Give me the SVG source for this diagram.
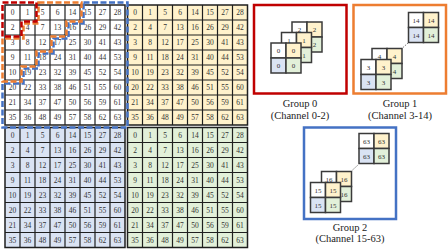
<svg xmlns="http://www.w3.org/2000/svg" width="448" height="250" viewBox="0 0 448 250">
<style>
text{font-family:"Liberation Serif","Times New Roman",serif;fill:#333;text-anchor:middle}
.n{font-size:7.5px}
.m{font-size:7px;fill:#333}
.lbl{font-size:10.5px;fill:#222}
.q{stroke:#1f1f1f;stroke-width:1.5}
.gl{fill:none;stroke:#1f1f1f;stroke-width:1.2}
.w{fill:#ffffff}.y{fill:#fff2cc}.b{fill:#dae3f3}.g{fill:#e2f0d9}
.mc{stroke:#3a3a3a;stroke-width:1.5}
.dash{fill:none;stroke-width:2.5;stroke-dasharray:6 2.5}
.box{fill:#fff;stroke-width:2.5}
.con{fill:none;stroke:#555;stroke-width:0.8;stroke-dasharray:1.5 1.2}
</style>
<defs>
<path id="gridlines" class="gl" d="M15 0V120M30 0V120M45 0V120M60 0V120M75 0V120M90 0V120M105 0V120M0 15H120M0 30H120M0 45H120M0 60H120M0 75H120M0 90H120M0 105H120"/>
</defs>

<g id="quad-tl" transform="translate(5,5)">
<rect class="q w" width="120" height="120"/>
<use href="#gridlines"/>
<g class="n">
<text y="10.3"><tspan x="7.5">0</tspan><tspan x="22.5">1</tspan><tspan x="37.5">5</tspan><tspan x="52.5">6</tspan><tspan x="67.5">14</tspan><tspan x="82.5">15</tspan><tspan x="97.5">27</tspan><tspan x="112.5">28</tspan></text>
<text y="25.3"><tspan x="7.5">2</tspan><tspan x="22.5">4</tspan><tspan x="37.5">7</tspan><tspan x="52.5">13</tspan><tspan x="67.5">16</tspan><tspan x="82.5">26</tspan><tspan x="97.5">29</tspan><tspan x="112.5">42</tspan></text>
<text y="40.3"><tspan x="7.5">3</tspan><tspan x="22.5">8</tspan><tspan x="37.5">12</tspan><tspan x="52.5">17</tspan><tspan x="67.5">25</tspan><tspan x="82.5">30</tspan><tspan x="97.5">41</tspan><tspan x="112.5">43</tspan></text>
<text y="55.3"><tspan x="7.5">9</tspan><tspan x="22.5">11</tspan><tspan x="37.5">18</tspan><tspan x="52.5">24</tspan><tspan x="67.5">31</tspan><tspan x="82.5">40</tspan><tspan x="97.5">44</tspan><tspan x="112.5">53</tspan></text>
<text y="70.3"><tspan x="7.5">10</tspan><tspan x="22.5">19</tspan><tspan x="37.5">23</tspan><tspan x="52.5">32</tspan><tspan x="67.5">39</tspan><tspan x="82.5">45</tspan><tspan x="97.5">52</tspan><tspan x="112.5">54</tspan></text>
<text y="85.3"><tspan x="7.5">20</tspan><tspan x="22.5">22</tspan><tspan x="37.5">33</tspan><tspan x="52.5">38</tspan><tspan x="67.5">46</tspan><tspan x="82.5">51</tspan><tspan x="97.5">55</tspan><tspan x="112.5">60</tspan></text>
<text y="100.3"><tspan x="7.5">21</tspan><tspan x="22.5">34</tspan><tspan x="37.5">37</tspan><tspan x="52.5">47</tspan><tspan x="67.5">50</tspan><tspan x="82.5">56</tspan><tspan x="97.5">59</tspan><tspan x="112.5">61</tspan></text>
<text y="115.3"><tspan x="7.5">35</tspan><tspan x="22.5">36</tspan><tspan x="37.5">48</tspan><tspan x="52.5">49</tspan><tspan x="67.5">57</tspan><tspan x="82.5">58</tspan><tspan x="97.5">62</tspan><tspan x="112.5">63</tspan></text>
</g>
</g>

<g id="quad-tr" transform="translate(127.5,5)">
<rect class="q y" width="120" height="120"/>
<use href="#gridlines"/>
<g class="n">
<text y="10.3"><tspan x="7.5">0</tspan><tspan x="22.5">1</tspan><tspan x="37.5">5</tspan><tspan x="52.5">6</tspan><tspan x="67.5">14</tspan><tspan x="82.5">15</tspan><tspan x="97.5">27</tspan><tspan x="112.5">28</tspan></text>
<text y="25.3"><tspan x="7.5">2</tspan><tspan x="22.5">4</tspan><tspan x="37.5">7</tspan><tspan x="52.5">13</tspan><tspan x="67.5">16</tspan><tspan x="82.5">26</tspan><tspan x="97.5">29</tspan><tspan x="112.5">42</tspan></text>
<text y="40.3"><tspan x="7.5">3</tspan><tspan x="22.5">8</tspan><tspan x="37.5">12</tspan><tspan x="52.5">17</tspan><tspan x="67.5">25</tspan><tspan x="82.5">30</tspan><tspan x="97.5">41</tspan><tspan x="112.5">43</tspan></text>
<text y="55.3"><tspan x="7.5">9</tspan><tspan x="22.5">11</tspan><tspan x="37.5">18</tspan><tspan x="52.5">24</tspan><tspan x="67.5">31</tspan><tspan x="82.5">40</tspan><tspan x="97.5">44</tspan><tspan x="112.5">53</tspan></text>
<text y="70.3"><tspan x="7.5">10</tspan><tspan x="22.5">19</tspan><tspan x="37.5">23</tspan><tspan x="52.5">32</tspan><tspan x="67.5">39</tspan><tspan x="82.5">45</tspan><tspan x="97.5">52</tspan><tspan x="112.5">54</tspan></text>
<text y="85.3"><tspan x="7.5">20</tspan><tspan x="22.5">22</tspan><tspan x="37.5">33</tspan><tspan x="52.5">38</tspan><tspan x="67.5">46</tspan><tspan x="82.5">51</tspan><tspan x="97.5">55</tspan><tspan x="112.5">60</tspan></text>
<text y="100.3"><tspan x="7.5">21</tspan><tspan x="22.5">34</tspan><tspan x="37.5">37</tspan><tspan x="52.5">47</tspan><tspan x="67.5">50</tspan><tspan x="82.5">56</tspan><tspan x="97.5">59</tspan><tspan x="112.5">61</tspan></text>
<text y="115.3"><tspan x="7.5">35</tspan><tspan x="22.5">36</tspan><tspan x="37.5">48</tspan><tspan x="52.5">49</tspan><tspan x="67.5">57</tspan><tspan x="82.5">58</tspan><tspan x="97.5">62</tspan><tspan x="112.5">63</tspan></text>
</g>
</g>

<g id="quad-bl" transform="translate(5,127.5)">
<rect class="q b" width="120" height="120"/>
<use href="#gridlines"/>
<g class="n">
<text y="10.3"><tspan x="7.5">0</tspan><tspan x="22.5">1</tspan><tspan x="37.5">5</tspan><tspan x="52.5">6</tspan><tspan x="67.5">14</tspan><tspan x="82.5">15</tspan><tspan x="97.5">27</tspan><tspan x="112.5">28</tspan></text>
<text y="25.3"><tspan x="7.5">2</tspan><tspan x="22.5">4</tspan><tspan x="37.5">7</tspan><tspan x="52.5">13</tspan><tspan x="67.5">16</tspan><tspan x="82.5">26</tspan><tspan x="97.5">29</tspan><tspan x="112.5">42</tspan></text>
<text y="40.3"><tspan x="7.5">3</tspan><tspan x="22.5">8</tspan><tspan x="37.5">12</tspan><tspan x="52.5">17</tspan><tspan x="67.5">25</tspan><tspan x="82.5">30</tspan><tspan x="97.5">41</tspan><tspan x="112.5">43</tspan></text>
<text y="55.3"><tspan x="7.5">9</tspan><tspan x="22.5">11</tspan><tspan x="37.5">18</tspan><tspan x="52.5">24</tspan><tspan x="67.5">31</tspan><tspan x="82.5">40</tspan><tspan x="97.5">44</tspan><tspan x="112.5">53</tspan></text>
<text y="70.3"><tspan x="7.5">10</tspan><tspan x="22.5">19</tspan><tspan x="37.5">23</tspan><tspan x="52.5">32</tspan><tspan x="67.5">39</tspan><tspan x="82.5">45</tspan><tspan x="97.5">52</tspan><tspan x="112.5">54</tspan></text>
<text y="85.3"><tspan x="7.5">20</tspan><tspan x="22.5">22</tspan><tspan x="37.5">33</tspan><tspan x="52.5">38</tspan><tspan x="67.5">46</tspan><tspan x="82.5">51</tspan><tspan x="97.5">55</tspan><tspan x="112.5">60</tspan></text>
<text y="100.3"><tspan x="7.5">21</tspan><tspan x="22.5">34</tspan><tspan x="37.5">37</tspan><tspan x="52.5">47</tspan><tspan x="67.5">50</tspan><tspan x="82.5">56</tspan><tspan x="97.5">59</tspan><tspan x="112.5">61</tspan></text>
<text y="115.3"><tspan x="7.5">35</tspan><tspan x="22.5">36</tspan><tspan x="37.5">48</tspan><tspan x="52.5">49</tspan><tspan x="67.5">57</tspan><tspan x="82.5">58</tspan><tspan x="97.5">62</tspan><tspan x="112.5">63</tspan></text>
</g>
</g>

<g id="quad-br" transform="translate(127.5,127.5)">
<rect class="q g" width="120" height="120"/>
<use href="#gridlines"/>
<g class="n">
<text y="10.3"><tspan x="7.5">0</tspan><tspan x="22.5">1</tspan><tspan x="37.5">5</tspan><tspan x="52.5">6</tspan><tspan x="67.5">14</tspan><tspan x="82.5">15</tspan><tspan x="97.5">27</tspan><tspan x="112.5">28</tspan></text>
<text y="25.3"><tspan x="7.5">2</tspan><tspan x="22.5">4</tspan><tspan x="37.5">7</tspan><tspan x="52.5">13</tspan><tspan x="67.5">16</tspan><tspan x="82.5">26</tspan><tspan x="97.5">29</tspan><tspan x="112.5">42</tspan></text>
<text y="40.3"><tspan x="7.5">3</tspan><tspan x="22.5">8</tspan><tspan x="37.5">12</tspan><tspan x="52.5">17</tspan><tspan x="67.5">25</tspan><tspan x="82.5">30</tspan><tspan x="97.5">41</tspan><tspan x="112.5">43</tspan></text>
<text y="55.3"><tspan x="7.5">9</tspan><tspan x="22.5">11</tspan><tspan x="37.5">18</tspan><tspan x="52.5">24</tspan><tspan x="67.5">31</tspan><tspan x="82.5">40</tspan><tspan x="97.5">44</tspan><tspan x="112.5">53</tspan></text>
<text y="70.3"><tspan x="7.5">10</tspan><tspan x="22.5">19</tspan><tspan x="37.5">23</tspan><tspan x="52.5">32</tspan><tspan x="67.5">39</tspan><tspan x="82.5">45</tspan><tspan x="97.5">52</tspan><tspan x="112.5">54</tspan></text>
<text y="85.3"><tspan x="7.5">20</tspan><tspan x="22.5">22</tspan><tspan x="37.5">33</tspan><tspan x="52.5">38</tspan><tspan x="67.5">46</tspan><tspan x="82.5">51</tspan><tspan x="97.5">55</tspan><tspan x="112.5">60</tspan></text>
<text y="100.3"><tspan x="7.5">21</tspan><tspan x="22.5">34</tspan><tspan x="37.5">37</tspan><tspan x="52.5">47</tspan><tspan x="67.5">50</tspan><tspan x="82.5">56</tspan><tspan x="97.5">59</tspan><tspan x="112.5">61</tspan></text>
<text y="115.3"><tspan x="7.5">35</tspan><tspan x="22.5">36</tspan><tspan x="37.5">48</tspan><tspan x="52.5">49</tspan><tspan x="67.5">57</tspan><tspan x="82.5">58</tspan><tspan x="97.5">62</tspan><tspan x="112.5">63</tspan></text>
</g>
</g>

<g id="group-outlines">
<path id="outline-blue" class="dash" stroke="#4472c4" d="M83.5 2.5H127.5V127.5H2.5V83.5H23.5V68.5H38.5V53.5H53.5V38.5H68.5V23.5H83.5Z"/>
<path id="outline-orange" class="dash" stroke="#ed7d31" d="M38.5 2.5H81.5V21.5H66.5V36.5H51.5V51.5H36.5V66.5H21.5V81.5H2.5V38.5H23.5V23.5H38.5Z"/>
<path id="outline-red" class="dash" stroke="#c00000" d="M2.5 2.5H36.5V21.5H21.5V36.5H2.5Z"/>
</g>

<g id="group0">
<rect class="box" stroke="#c00000" x="254" y="5" width="92.5" height="88.5"/>
<g id="g0-ch2" transform="translate(292,22)">
<rect class="mc w" width="15" height="15"/><rect class="mc y" x="15" width="15" height="15"/><rect class="mc b" y="15" width="15" height="15"/><rect class="mc g" x="15" y="15" width="15" height="15"/>
<text class="m" x="7.5" y="10">2</text><text class="m" x="22.5" y="10">2</text><text class="m" x="22.5" y="25">2</text>
</g>
<g id="g0-ch1" transform="translate(281.5,32.5)">
<rect class="mc w" width="15" height="15"/><rect class="mc y" x="15" width="15" height="15"/><rect class="mc b" y="15" width="15" height="15"/><rect class="mc g" x="15" y="15" width="15" height="15"/>
<text class="m" x="7.5" y="10">1</text><text class="m" x="22.5" y="10">1</text><text class="m" x="22.5" y="25">1</text>
</g>
<g id="g0-ch0" transform="translate(271,43)">
<rect class="mc w" width="15" height="15"/><rect class="mc y" x="15" width="15" height="15"/><rect class="mc b" y="15" width="15" height="15"/><rect class="mc g" x="15" y="15" width="15" height="15"/>
<text class="m" x="7.5" y="10">0</text><text class="m" x="22.5" y="10">0</text><text class="m" x="7.5" y="25">0</text><text class="m" x="22.5" y="25">0</text>
</g>
<text class="lbl" x="300" y="107">Group 0</text>
<text class="lbl" x="300" y="118.5">(Channel 0-2)</text>
</g>

<g id="group1">
<rect class="box" stroke="#ed7d31" x="353.5" y="5" width="92.5" height="88.5"/>
<g id="g1-ch14" transform="translate(408.5,12.5)">
<rect class="mc w" width="15" height="15"/><rect class="mc y" x="15" width="15" height="15"/><rect class="mc b" y="15" width="15" height="15"/><rect class="mc g" x="15" y="15" width="15" height="15"/>
<text class="m" x="7.5" y="10">14</text><text class="m" x="22.5" y="10">14</text><text class="m" x="7.5" y="25">14</text><text class="m" x="22.5" y="25">14</text>
</g>
<g id="g1-ch4" transform="translate(372,48.5)">
<rect class="mc w" width="15" height="15"/><rect class="mc y" x="15" width="15" height="15"/><rect class="mc b" y="15" width="15" height="15"/><rect class="mc g" x="15" y="15" width="15" height="15"/>
<text class="m" x="7.5" y="10">4</text><text class="m" x="22.5" y="10">4</text><text class="m" x="22.5" y="25">4</text>
</g>
<g id="g1-ch3" transform="translate(361,59.5)">
<rect class="mc w" width="15" height="15"/><rect class="mc y" x="15" width="15" height="15"/><rect class="mc b" y="15" width="15" height="15"/><rect class="mc g" x="15" y="15" width="15" height="15"/>
<text class="m" x="7.5" y="10">3</text><text class="m" x="22.5" y="10">3</text><text class="m" x="7.5" y="25">3</text><text class="m" x="22.5" y="25">3</text>
</g>
<text class="lbl" x="400" y="107">Group 1</text>
<text class="lbl" x="400" y="118.5">(Channel 3-14)</text>
</g>

<g id="group2">
<rect class="box" stroke="#4472c4" x="304" y="127.5" width="92" height="91.5"/>
<g id="g2-ch63" transform="translate(359,133.5)">
<rect class="mc w" width="15" height="15"/><rect class="mc y" x="15" width="15" height="15"/><rect class="mc b" y="15" width="15" height="15"/><rect class="mc g" x="15" y="15" width="15" height="15"/>
<text class="m" x="7.5" y="10">63</text><text class="m" x="22.5" y="10">63</text><text class="m" x="7.5" y="25">63</text><text class="m" x="22.5" y="25">63</text>
</g>
<g id="g2-ch16" transform="translate(321.5,171.5)">
<rect class="mc w" width="15" height="15"/><rect class="mc y" x="15" width="15" height="15"/><rect class="mc b" y="15" width="15" height="15"/><rect class="mc g" x="15" y="15" width="15" height="15"/>
<text class="m" x="7.5" y="10">16</text><text class="m" x="22.5" y="10">16</text><text class="m" x="22.5" y="25">16</text>
</g>
<g id="g2-ch15" transform="translate(310.5,182.5)">
<rect class="mc w" width="15" height="15"/><rect class="mc y" x="15" width="15" height="15"/><rect class="mc b" y="15" width="15" height="15"/><rect class="mc g" x="15" y="15" width="15" height="15"/>
<text class="m" x="7.5" y="10">15</text><text class="m" x="22.5" y="10">15</text><text class="m" x="7.5" y="25">15</text><text class="m" x="22.5" y="25">15</text>
</g>
<text class="lbl" x="350" y="230.8">Group 2</text>
<text class="lbl" x="350" y="242">(Channel 15-63)</text>
</g>

<g id="connectors">
<line class="con" x1="403" y1="47.5" x2="408" y2="43"/>
<line class="con" x1="352.5" y1="170" x2="358" y2="165"/>
</g>
</svg>
